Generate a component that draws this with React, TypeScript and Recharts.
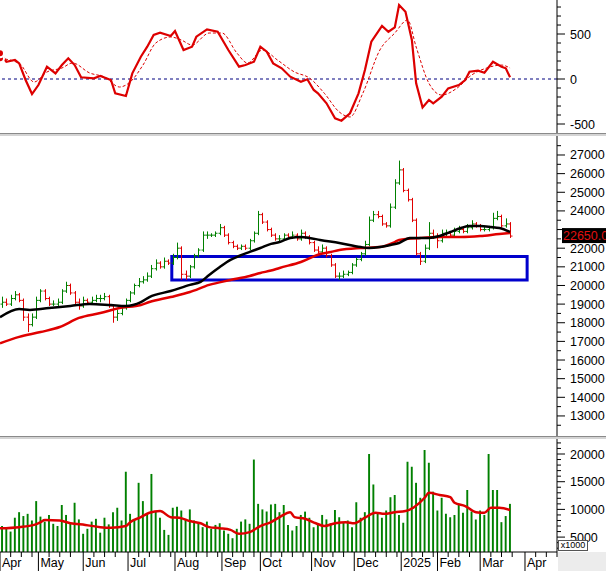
import React from 'react';
import { ComposedChart, Bar, Line, XAxis, YAxis, ReferenceLine, ReferenceArea } from 'recharts';

const FONT = '"Liberation Sans", Arial, sans-serif';
const DAY_MAX = 261;

// one bar = two trading days, bar k sits on day 2k+1
const opens = [
  19000, 19100, 19000, 19300, 19500, 19200, 18300, 17900, 18300, 19200,
  19700, 19300, 19000, 19000, 19100, 19700, 20000, 19600, 19100, 18900,
  19200, 19100, 19200, 19300, 19300, 19400, 18900, 18300, 18500, 18800,
  19200, 19600, 20000, 20200, 20300, 20500, 20900, 21200, 21000, 21300,
  21200, 21500, 22000, 20600, 20500, 21000, 21600, 21900, 22700, 22700,
  22700, 22800, 23100, 22700, 22300, 22100, 22000, 22100, 22000, 22400,
  22800, 23800, 23400, 23000, 22700, 22500, 22500, 22700, 22600, 22700,
  22500, 22800, 22600, 22300, 21900, 21800, 22000, 21600, 21100, 20500,
  20500, 20600, 20700, 21100, 21400, 21700, 22200, 23500, 23800, 23700,
  23300, 23200, 24200, 25500, 26200, 25100, 24600, 23500, 21700, 21300,
  22000, 22800, 22600, 22400, 22800, 22800, 22700, 22900, 23000, 22900,
  23100, 23300, 23200, 23000, 23000, 23100, 23600, 23700, 23200, 23300,
];
const highs = [
  19400, 19300, 19500, 19700, 19600, 19300, 18500, 18500, 19400, 19800,
  19800, 19400, 19200, 19300, 19800, 20200, 20100, 19700, 19300, 19400,
  19300, 19400, 19500, 19500, 19600, 19500, 19000, 18700, 18900, 19300,
  19700, 20100, 20400, 20500, 20700, 21100, 21400, 21300, 21500, 21400,
  21700, 22300, 22100, 20800, 21100, 21700, 22000, 22900, 22900, 22800,
  22900, 23300, 23200, 22800, 22400, 22200, 22200, 22200, 22500, 22900,
  24000, 23900, 23500, 23100, 22800, 22700, 22800, 22800, 22900, 22800,
  23000, 22900, 22700, 22400, 22100, 22200, 22100, 21700, 21200, 20700,
  20800, 20800, 21200, 21500, 21800, 22400, 23700, 24000, 24000, 23800,
  23400, 24400, 25700, 26700, 26300, 25200, 24700, 23600, 21800, 22200,
  23400, 23000, 22800, 23000, 23000, 22900, 23100, 23200, 23100, 23300,
  23500, 23400, 23300, 23200, 23200, 23900, 24000, 23800, 23600, 23400,
];
const lows = [
  18800, 18900, 18900, 19200, 19100, 18100, 17500, 17800, 18200, 19100,
  19200, 18900, 18900, 18900, 19000, 19600, 19500, 19000, 18700, 18800,
  19000, 19000, 19100, 19100, 19200, 18800, 18000, 18100, 18400, 18700,
  19100, 19500, 19900, 20100, 20200, 20400, 20800, 20900, 20900, 21100,
  21100, 21400, 20300, 20300, 20400, 20900, 21500, 21800, 22500, 22600,
  22600, 22700, 22600, 22200, 22000, 21900, 21900, 21900, 21900, 22300,
  22700, 23300, 22900, 22600, 22400, 22300, 22400, 22500, 22500, 22400,
  22400, 22500, 22200, 21800, 21700, 21700, 21500, 21000, 20400, 20300,
  20400, 20500, 20600, 21000, 21300, 21600, 22100, 23400, 23600, 23200,
  23100, 23100, 24100, 25400, 25000, 24500, 23400, 21600, 21100, 21200,
  21900, 22500, 22000, 22300, 22600, 22600, 22600, 22800, 22800, 22800,
  23000, 23100, 22900, 22900, 22900, 23000, 23500, 23100, 23100, 22550,
];
const closes = [
  19100, 19000, 19300, 19500, 19200, 18300, 17900, 18300, 19200, 19700,
  19300, 19000, 19000, 19100, 19700, 20000, 19600, 19100, 18900, 19200,
  19100, 19200, 19300, 19300, 19400, 18900, 18300, 18500, 18800, 19200,
  19600, 20000, 20200, 20300, 20500, 20900, 21200, 21000, 21300, 21200,
  21500, 22000, 20600, 20500, 21000, 21600, 21900, 22700, 22700, 22700,
  22800, 23100, 22700, 22300, 22100, 22000, 22100, 22000, 22400, 22800,
  23800, 23400, 23000, 22700, 22500, 22500, 22700, 22600, 22700, 22500,
  22800, 22600, 22300, 21900, 21800, 22000, 21600, 21100, 20500, 20500,
  20600, 20700, 21100, 21400, 21700, 22200, 23500, 23800, 23700, 23300,
  23200, 24200, 25500, 26200, 25100, 24600, 23500, 21700, 21300, 22000,
  22800, 22600, 22400, 22800, 22800, 22700, 22900, 23000, 22900, 23100,
  23300, 23200, 23000, 23000, 23100, 23600, 23700, 23200, 23300, 22650,
];
const volumes = [
  7000, 6500, 6000, 8500, 9500, 8800, 9200, 8000, 11500, 8700,
  7800, 9000, 7400, 7000, 10800, 9000, 7400, 11200, 8200, 5600,
  6500, 7800, 8300, 5800, 8500, 7300, 9500, 10300, 8000, 16800,
  9200, 8200, 14800, 11500, 9300, 16400, 9600, 8500, 6300, 5400,
  10300, 10500, 9800, 8200, 10000, 8000, 7500, 6800, 7800, 6500,
  7200, 7500, 6200, 5600, 4800, 6500, 7800, 8200, 7400, 19000,
  11000, 10000, 9600, 10900, 11000, 9500, 10800, 7200, 6200, 7000,
  9000, 9600, 8500, 6800, 7500, 9000, 8200, 7500, 9900, 8600,
  7600, 8000, 6800, 11300, 8500, 9500, 20000, 14500, 9500, 8500,
  9800, 12200, 12600, 9000, 7600, 18600, 17700, 14800, 12100, 20700,
  18400, 13200, 9800, 12100, 9200, 8600, 9000, 10800, 9400, 13500,
  9600, 8200, 9800, 9000, 20000, 13500, 13500, 7700, 8800, 11000,
];

// moving averages, read at sample days
const maFastDays = [0, 9, 14, 23, 33, 42, 52, 59, 66, 70, 80, 89, 94, 98, 103, 108, 112, 117, 122, 127, 131, 136, 141, 145, 150, 159, 169, 173, 178, 183, 187, 192, 197, 201, 206, 211, 216, 220, 225, 230, 234, 239];
const maFastVals = [18300, 18740, 18690, 18790, 18900, 19010, 18950, 18900, 19110, 19380, 19700, 20030, 20190, 20560, 20990, 21370, 21580, 21800, 22010, 22230, 22330, 22550, 22600, 22550, 22440, 22280, 22060, 22010, 22060, 22170, 22280, 22550, 22550, 22550, 22650, 22870, 23080, 23190, 23190, 23140, 23080, 22870];
const maSlowDays = [0, 9, 19, 28, 37, 47, 56, 66, 70, 80, 89, 98, 108, 117, 122, 127, 131, 141, 150, 155, 159, 169, 178, 185, 187, 197, 206, 216, 225, 234, 239];
const maSlowVals = [16900, 17240, 17500, 17770, 18260, 18520, 18790, 18950, 19110, 19380, 19650, 20030, 20290, 20510, 20670, 20800, 20940, 21260, 21690, 21800, 21900, 22010, 22060, 22330, 22440, 22550, 22600, 22600, 22650, 22760, 22810];
const volMaDays = [0, 9, 16, 19, 21, 28, 33, 40, 47, 52, 59, 61, 66, 70, 75, 80, 84, 89, 94, 98, 103, 108, 112, 117, 122, 127, 131, 136, 138, 143, 148, 152, 157, 162, 166, 171, 176, 180, 185, 190, 194, 199, 201, 206, 211, 213, 218, 223, 227, 230, 234, 239];
const volMaVals = [6600, 6800, 7200, 7700, 8100, 8000, 7500, 7200, 6800, 6700, 7000, 7700, 8600, 9400, 9700, 8600, 8500, 7900, 7500, 6800, 6600, 6300, 5600, 5900, 7000, 7700, 8600, 9500, 8600, 8300, 7500, 7000, 7500, 7700, 7500, 8500, 9400, 9200, 9500, 9700, 10400, 12100, 13000, 12600, 12200, 11200, 10600, 9500, 9400, 10300, 10300, 9900];

// oscillator
const macdDays = [0, 3, 7, 9, 12, 15, 18, 22, 26, 29, 32, 35, 38, 44, 47, 52, 54, 59, 62, 66, 69, 72, 75, 80, 82, 86, 90, 92, 97, 102, 107, 112, 115, 119, 122, 125, 128, 132, 136, 141, 144, 147, 149, 153, 157, 160, 164, 168, 171, 174, 179, 182, 185, 187, 190, 193, 195, 198, 201, 203, 207, 210, 215, 218, 220, 224, 227, 231, 235, 237, 239];
const macdVals = [285, 192, 211, 174, -11, -167, -67, 137, 63, 155, 230, 155, 19, 7, 33, -11, -159, -189, 63, 248, 359, 489, 514, 478, 533, 322, 359, 470, 552, 525, 322, 137, 155, 192, 359, 303, 174, 119, 26, -30, -3, -122, -159, -270, -437, -463, -381, -159, 100, 414, 589, 525, 574, 822, 748, 433, -48, -315, -233, -270, -196, -104, -67, -11, 81, 93, 70, 192, 137, 119, 19];
const signalDays = [0, 9, 16, 22, 29, 34, 42, 49, 56, 61, 67, 73, 80, 85, 90, 98, 104, 111, 116, 123, 130, 138, 145, 152, 159, 164, 170, 178, 185, 191, 195, 201, 207, 214, 221, 228, 235, 239];
const signalVals = [230, 174, -33, 78, 122, 178, 67, 22, -89, -33, 155, 400, 467, 433, 378, 511, 511, 289, 178, 322, 211, 78, 11, -159, -367, -422, -159, 322, 511, 656, 356, -48, -178, -104, 44, 122, 155, 122];

const monthDays = [0, 18, 39, 60, 82, 104, 122, 146, 166, 188, 205, 225, 246];
const monthLabels = ['Apr', 'May', 'Jun', 'Jul', 'Aug', 'Sep', 'Oct', 'Nov', 'Dec', '2025', 'Feb', 'Mar', 'Apr'];

const zoneLow = 20300;
const zoneHigh = 21550;
const zoneFrom = 80.5;
const zoneTo = 247;
const lastPrice = closes[closes.length - 1];

const bars = closes.map((c, k) => ({ t: 2 * k + 1, o: opens[k], h: highs[k], l: lows[k], c, vol: volumes[k] }));
const pts = (days: number[], vals: number[]) => days.map((t, i) => ({ t, v: vals[i] }));

const range = (a: number, b: number, s: number) => {
  const out: number[] = [];
  for (let v = a; v <= b; v += s) out.push(v);
  return out;
};

const macdTicks = range(-500, 800, 100);
const priceTicks = range(12500, 27500, 500);
const volTicks = range(3000, 22000, 1000);

const xTicks: number[] = [];
monthDays.forEach((d, i) => {
  xTicks.push(d);
  const end = i + 1 < monthDays.length ? monthDays[i + 1] - 2 : DAY_MAX;
  for (let w = d + 5; w <= end; w += 5) xTicks.push(w);
});

// labels hidden under the last-price badge are skipped
const yTick = (step: number, lo: number, hi: number, hidden?: number) => (props: any) => {
  const { x, y, payload } = props;
  const v = payload.value;
  const major = v % step === 0 && v >= lo && v <= hi;
  const covered = hidden !== undefined && Math.abs(v - hidden) < step / 2;
  return (
    <g>
      <line x1={x} x2={x + (major ? 8 : 4)} y1={y} y2={y} stroke="#000" />
      {major && !covered && (
        <text x={x + 13} y={y + 4.5} fontSize={12.5} fontFamily={FONT} fill="#000">
          {v}
        </text>
      )}
    </g>
  );
};

const MonthTick = (props: any) => {
  const { x, y, payload } = props;
  const mi = monthDays.indexOf(payload.value);
  if (mi < 0) return <line x1={x} x2={x} y1={y} y2={y + 5} stroke="#000" />;
  return (
    <g>
      <line x1={x} x2={x} y1={y} y2={y + 19} stroke="#000" />
      <text x={x + 2} y={y + 15} fontSize={12.5} fontFamily={FONT} fill="#000">
        {monthLabels[mi]}
      </text>
    </g>
  );
};

const OhlcShape = (props: any) => {
  const { x, y, width, height, payload } = props;
  const { o, h, l, c } = payload;
  const cx = Math.round(x + width / 2) + 0.5;
  const span = h - l || 1;
  const yo = y + ((h - o) / span) * height;
  const yc = y + ((h - c) / span) * height;
  const col = c >= o ? '#008000' : '#e00000';
  return (
    <g stroke={col} strokeWidth={1}>
      <line x1={cx} x2={cx} y1={y} y2={y + height} />
      <line x1={cx - 2} x2={cx} y1={yo} y2={yo} />
      <line x1={cx} x2={cx + 2} y1={yc} y2={yc} />
    </g>
  );
};

const PriceBadge = (props: any) => {
  const { viewBox } = props;
  if (!viewBox) return null;
  const x = viewBox.x + viewBox.width;
  const y = viewBox.y;
  return (
    <g>
      <rect x={x + 5} y={y - 8} width={50} height={15} fill="#000" />
      <text x={x + 6} y={y + 4} fontSize={12.5} fontFamily={FONT} fill="#e01010">
        {lastPrice.toFixed(2)}
      </text>
    </g>
  );
};

const margin = { top: 0, right: 0, bottom: 0, left: 0 };
const sep = { height: 3, boxSizing: 'border-box' as const, borderTop: '1px solid #8a8a8a', background: '#d4d4d4' };

export default function App() {
  return (
    <div style={{ position: 'absolute', left: 0, top: 0, width: 606, height: 571, background: '#fff', overflow: 'hidden' }}>
      <ComposedChart width={606} height={133} data={bars} margin={margin}>
        <XAxis type="number" dataKey="t" domain={[0, DAY_MAX]} hide allowDataOverflow />
        <YAxis orientation="right" width={49} domain={[-600, 878]} allowDataOverflow ticks={macdTicks} interval={0}
          tick={yTick(500, -500, 500)} tickLine={false} tickSize={0} tickMargin={0} axisLine={{ stroke: '#000' }} />
        <ReferenceLine y={0} stroke="#000080" strokeDasharray="3 3" />
        <Line data={pts(signalDays, signalVals)} dataKey="v" type="monotone" stroke="#dd0000" strokeWidth={1}
          strokeDasharray="3 2" dot={false} isAnimationActive={false} />
        <Line data={pts(macdDays, macdVals)} dataKey="v" type="linear" stroke="#dd0000" strokeWidth={2.2}
          dot={false} isAnimationActive={false} />
      </ComposedChart>
      <div style={sep} />
      <ComposedChart width={606} height={300} data={bars} margin={margin}>
        <XAxis type="number" dataKey="t" domain={[0, DAY_MAX]} hide allowDataOverflow />
        <YAxis orientation="right" width={49} domain={[11924, 28019]} allowDataOverflow ticks={priceTicks} interval={0}
          tick={yTick(1000, 13000, 27000, lastPrice)} tickLine={false} tickSize={0} tickMargin={0} axisLine={{ stroke: '#000' }} />
        <Bar dataKey={(d: any) => [d.l, d.h]} shape={OhlcShape} barSize={3} isAnimationActive={false} />
        <Line data={pts(maSlowDays, maSlowVals)} dataKey="v" type="monotone" stroke="#e00000" strokeWidth={2.5}
          dot={false} isAnimationActive={false} />
        <Line data={pts(maFastDays, maFastVals)} dataKey="v" type="monotone" stroke="#000" strokeWidth={2.5}
          dot={false} isAnimationActive={false} />
        <ReferenceArea x1={zoneFrom} x2={zoneTo} y1={zoneLow} y2={zoneHigh} fill="none" fillOpacity={0}
          stroke="#0000cc" strokeWidth={3} ifOverflow="visible" />
        <ReferenceLine y={lastPrice} stroke="none" label={<PriceBadge />} />
      </ComposedChart>
      <div style={sep} />
      <ComposedChart width={606} height={132} data={bars} margin={margin}>
        <XAxis type="number" dataKey="t" domain={[0, DAY_MAX]} allowDataOverflow ticks={xTicks} interval={0}
          tick={MonthTick} tickLine={false} tickSize={0} tickMargin={0} height={19} axisLine={{ stroke: '#000' }} />
        <YAxis orientation="right" width={49} domain={[2312, 22708]} allowDataOverflow ticks={volTicks} interval={0}
          tick={yTick(5000, 5000, 20000)} tickLine={false} tickSize={0} tickMargin={0} axisLine={{ stroke: '#000' }} />
        <Bar dataKey="vol" fill="#008000" barSize={3} isAnimationActive={false} />
        <Line data={pts(volMaDays, volMaVals)} dataKey="v" type="monotone" stroke="#dd0000" strokeWidth={2.5}
          dot={false} isAnimationActive={false} />
      </ComposedChart>
      <div style={{ position: 'absolute', left: 558, top: 552, width: 48, height: 19, background: '#ececec' }} />
      <div style={{ position: 'absolute', left: 558, top: 540, width: 30, height: 11, boxSizing: 'border-box',
        border: '1px solid #555', background: '#fff', fontFamily: FONT, fontSize: 9, lineHeight: '9px', textAlign: 'center' }}>
        x1000
      </div>
    </div>
  );
}
